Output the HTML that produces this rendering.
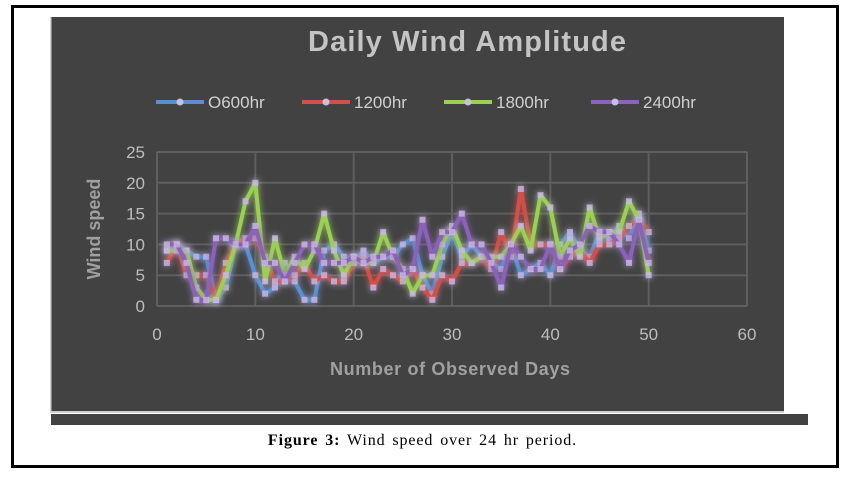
<!DOCTYPE html>
<html><head><meta charset="utf-8"><style>
body{margin:0;width:845px;height:484px;background:#fff;position:relative;font-family:"Liberation Sans",sans-serif;overflow:hidden}
#frame{position:absolute;left:11px;top:5px;width:822px;height:457px;border:3px solid #000}
#chart{position:absolute;left:50px;top:17px}
#strip{position:absolute;left:51px;top:414px;width:757px;height:11px;background:#424242}
#cap{position:absolute;left:0;width:845px;top:432px;text-align:center;font-family:"Liberation Serif",serif;font-size:16px;letter-spacing:0.9px;word-spacing:2px;color:#000}
</style></head><body>
<div id="frame"></div>
<div id="strip"></div>
<svg id="chart" width="734" height="396"></svg>
<div id="cap"><b>Figure 3:</b> Wind speed over 24 hr period.</div>
<script>
const xTicks=[0,10,20,30,40,50,60];
const yTicks=[0,5,10,15,20,25];
const seriesNames=["O600hr","1200hr","1800hr","2400hr"];
const s0600=[9,10,9,8,8,1,3,10,10,5,2,3,7,4,1,1,9,10,8,7,9,7,8,8,10,11,5,2,8,12,8,10,8,7,6,10,5,6,7,5,10,12,9,8,12,11,13,11,15,9];
const s1200=[7,10,5,5,5,1,7,10,11,11,8,4,4,5,7,4,5,4,4,7,8,3,6,5,4,6,3,1,5,4,7,7,8,6,12,8,19,10,10,10,6,8,9,7,10,10,11,13,14,12];
const s1800=[9,9,9,3,1,1,5,10,17,20,4,11,5,8,6,9,15,9,5,8,7,7,12,8,6,2,5,5,10,13,9,7,8,8,8,10,13,9,18,16,8,11,8,16,11,12,12,17,14,5];
const s2400=[10,10,7,1,1,11,11,10,10,13,7,7,4,7,10,10,7,7,7,8,7,8,8,9,5,6,14,8,12,12,15,10,10,7,3,10,8,6,6,10,6,9,10,13,12,12,10,7,14,7];
const colors=["#5b8fd0","#d0504a","#9bcf55","#8a64b8"];
const NS="http://www.w3.org/2000/svg",svg=document.getElementById('chart');
const X0=107,X1=697,Y0=289,Y1=135;
const xs=v=>X0+(v-0)/60*(X1-X0), ys=v=>Y0-(v/25)*(Y0-Y1);
function mk(t,a,p){const e=document.createElementNS(NS,t);for(const k in a)e.setAttribute(k,a[k]);(p||svg).appendChild(e);return e;}
const defs=mk('defs',{});
const f=mk('filter',{id:'glow',x:'-20%',y:'-50%',width:'140%',height:'200%'},defs);
mk('feGaussianBlur',{stdDeviation:'3.5',result:'b'},f);
const m=mk('feMerge',{},f);mk('feMergeNode',{in:'b'},m);mk('feMergeNode',{in:'SourceGraphic'},m);
const bg=mk('rect',{x:0,y:0,width:734,height:396,fill:'#424242'});

mk('line',{x1:0.5,y1:0,x2:0.5,y2:395.5,stroke:'#d0d0d0','stroke-width':2});
mk('line',{x1:0,y1:395,x2:734,y2:395,stroke:'#d0d0d0','stroke-width':2});
yTicks.forEach(t=>{const l=mk('line',{x1:X0,x2:X1,y1:ys(t),y2:ys(t),stroke:'#5e5e5e','stroke-width':2});

const tx=mk('text',{x:X0-12,y:ys(t)+6,'text-anchor':'end','font-size':17,fill:'#bdbdbd'});tx.textContent=t;
});
xTicks.forEach(t=>{const l=mk('line',{x1:xs(t),x2:xs(t),y1:Y1,y2:Y0,stroke:'#5e5e5e','stroke-width':2});

const tx=mk('text',{x:xs(t),y:Y0+34,'text-anchor':'middle','font-size':17,fill:'#bdbdbd'});tx.textContent=t;
});
const title=mk('text',{x:417,y:34,'text-anchor':'middle','font-size':29,'font-weight':'bold',fill:'#c4c4c4',textLength:318});title.textContent='Daily Wind Amplitude';

const yt=mk('text',{x:50,y:212,'text-anchor':'middle','font-size':18,'font-weight':'bold',fill:'#a0a0a0',transform:'rotate(-90 50 212)'});yt.textContent='Wind speed';

const xt=mk('text',{x:400,y:358,'text-anchor':'middle','font-size':18,'font-weight':'bold',fill:'#a0a0a0',textLength:240});xt.textContent='Number of Observed Days';

const legX=[106,252,394,541];
seriesNames.forEach((n,i)=>{const g=mk('g',{});

mk('line',{x1:legX[i],x2:legX[i]+48,y1:85,y2:85,stroke:colors[i],'stroke-width':4},g);
mk('circle',{cx:legX[i]+24,cy:85,r:3.5,fill:'#c8c0e0'},g);
const t=mk('text',{x:legX[i]+52,y:91,'font-size':17,fill:'#d0d0d0'},g);t.textContent=n;});
[s0600,s1200,s1800,s2400].forEach((s,i)=>{const g=mk('g',{filter:'url(#glow)'});

const pts=s.map((v,k)=>xs(k+1)+','+ys(v)).join(' ');
const pl=mk('polyline',{points:pts,fill:'none',stroke:colors[i],'stroke-width':4,'stroke-linejoin':'round'},g);

s.forEach((v,k)=>{const r=mk('rect',{x:xs(k+1)-3,y:ys(v)-3,width:6,height:6,fill:'#c9b8e4',opacity:0.8},g);
});});
</script>
</body></html>
